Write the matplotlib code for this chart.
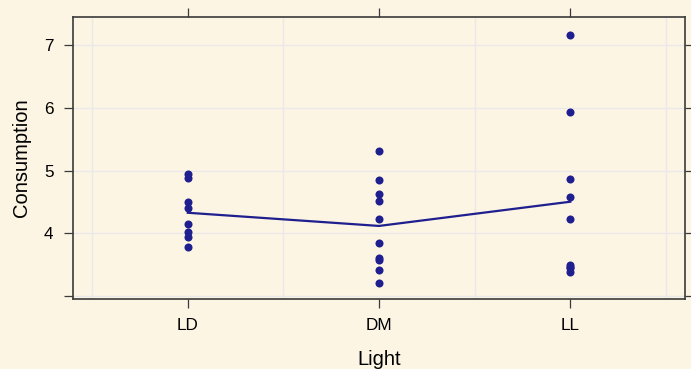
import numpy as np
import matplotlib.pyplot as plt

plt.rcParams['font.family'] = ['Liberation Sans', 'DejaVu Sans']

light = ["LD", "DM", "LL"]
consumption_ld = [4.94, 4.88, 4.50, 4.40, 4.15, 4.02, 3.94, 3.78]
consumption_dm = [5.31, 4.85, 4.63, 4.51, 4.22, 3.84, 3.61, 3.58, 3.41, 3.20]
consumption_ll = [7.16, 5.93, 4.86, 4.58, 4.22, 3.49, 3.46, 3.44, 3.38]
groups = [consumption_ld, consumption_dm, consumption_ll]

bg = "#FDF5E3"
blue = "#1F1F8F"
grid_col = "#E9E9E9"
frame_col = "#3A3A3A"

fig = plt.figure(figsize=(6.91, 3.69), dpi=100, facecolor=bg)
ax = fig.add_axes([73 / 691, 1 - 299 / 369, 612 / 691, 282 / 369])
ax.set_facecolor(bg)

# lattice-style reference grid
for gx in np.arange(len(light) + 1) - 0.5:
    ax.axvline(gx, color=grid_col, lw=1, zorder=0)
for gy in range(3, 8):
    ax.axhline(gy, color=grid_col, lw=1, zorder=0)

for i, vals in enumerate(groups):
    ax.plot([i] * len(vals), vals, "o", color=blue, ms=5.8, mec="none", zorder=3)

means = [np.mean(v) for v in groups]
ax.plot(range(len(light)), means, color=blue, lw=1.6, zorder=2)

ax.set_xlim(-0.6, 2.6)
ax.set_ylim(2.95, 7.45)
ax.set_xticks(range(len(light)))
ax.set_xticklabels(light)
ax.set_yticks([3, 4, 5, 6, 7])
ax.set_yticklabels(["", "4", "5", "6", "7"])

ax.tick_params(direction="out", length=6.5, width=0.9, color=frame_col,
               labelsize=12.3, pad=7.5, top=True, right=True,
               labeltop=False, labelright=False)
for s in ax.spines.values():
    s.set_color(frame_col)
    s.set_linewidth(1.2)

ax.set_xlabel("Light", fontsize=14.5, labelpad=12)
ax.set_ylabel("Consumption", fontsize=14.5, labelpad=9)

fig.savefig("out.png", dpi=100, facecolor=bg)
